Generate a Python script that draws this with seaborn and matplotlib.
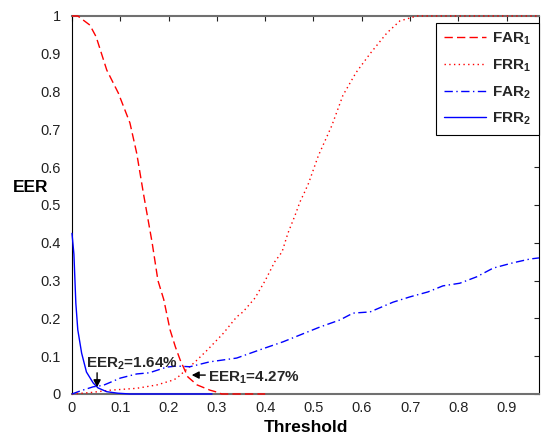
import matplotlib
matplotlib.use("Agg")
import matplotlib.pyplot as plt
import seaborn as sns

# ------------------------------------------------------------------
# Data
# ------------------------------------------------------------------
far1_x = [0.0, 0.012, 0.037, 0.05, 0.072, 0.096, 0.12, 0.134, 0.148, 0.166,
          0.178, 0.19, 0.203, 0.214, 0.224, 0.24, 0.259, 0.286, 0.30, 0.31, 0.40]
far1_y = [1.0, 1.0, 0.976, 0.945, 0.857, 0.796, 0.717, 0.637, 0.53, 0.40,
          0.30, 0.25, 0.17, 0.125, 0.09, 0.045, 0.024, 0.01, 0.005, 0.0, 0.0]

frr1_x = [0.0, 0.04, 0.079, 0.134, 0.176, 0.21, 0.217, 0.255, 0.28, 0.313,
          0.341, 0.354, 0.379, 0.40, 0.42, 0.435, 0.447, 0.462, 0.472, 0.482,
          0.49, 0.51, 0.538, 0.561, 0.588, 0.617, 0.652, 0.679, 0.714, 0.967]
frr1_y = [0.0, 0.004, 0.01, 0.015, 0.024, 0.037, 0.042, 0.085, 0.116, 0.16,
          0.204, 0.217, 0.254, 0.30, 0.35, 0.376, 0.425, 0.473, 0.508, 0.535,
          0.558, 0.63, 0.71, 0.79, 0.85, 0.90, 0.955, 0.987, 1.0, 1.0]

far2_x = [0.0, 0.017, 0.044, 0.065, 0.10, 0.134, 0.16, 0.196, 0.217, 0.244,
          0.285, 0.341, 0.396, 0.437, 0.472, 0.513, 0.555, 0.582, 0.617, 0.641,
          0.665, 0.70, 0.737, 0.768, 0.803, 0.838, 0.872, 0.913, 0.948, 0.967]
far2_y = [0.0, 0.008, 0.019, 0.023, 0.042, 0.053, 0.056, 0.071, 0.074, 0.072,
          0.085, 0.095, 0.12, 0.138, 0.156, 0.177, 0.196, 0.214, 0.217, 0.23,
          0.243, 0.257, 0.27, 0.286, 0.293, 0.31, 0.333, 0.347, 0.357, 0.36]

frr2_x = [0.0, 0.004, 0.008, 0.012, 0.02, 0.03, 0.044, 0.054, 0.072, 0.095,
          0.12, 0.29]
frr2_y = [0.425, 0.37, 0.24, 0.17, 0.108, 0.058, 0.029, 0.016, 0.006, 0.002,
          0.0, 0.0]

x_ticks = [0, 0.1, 0.2, 0.3, 0.4, 0.5, 0.6, 0.7, 0.8, 0.9]
y_ticks = [0, 0.1, 0.2, 0.3, 0.4, 0.5, 0.6, 0.7, 0.8, 0.9, 1]
y_tick_labels = ["0", "0.1", "0.2", "0.3", "0.4", "0.5", "0.6", "0.7", "0.8", "0.9", "1"]
x_tick_labels = ["0", "0.1", "0.2", "0.3", "0.4", "0.5", "0.6", "0.7", "0.8", "0.9"]

# ------------------------------------------------------------------
# Style
# ------------------------------------------------------------------
sns.set_theme(style="white")
plt.rcParams['font.family'] = ['Liberation Sans', 'DejaVu Sans']
plt.rcParams['mathtext.fontset'] = 'custom'
plt.rcParams['mathtext.rm'] = 'Liberation Sans'
plt.rcParams['mathtext.bf'] = 'Liberation Sans:bold'

RED = '#ff0000'
BLUE = '#0000ff'

fig = plt.figure(figsize=(5.42, 4.38), dpi=100)
ax = fig.add_axes([0.1328, 0.1005, 0.8617, 0.863])

for side in ['left', 'right']:
    ax.spines[side].set_color('black')
    ax.spines[side].set_linewidth(0.8)
for side in ['top', 'bottom']:
    ax.spines[side].set_color('#707070')
    ax.spines[side].set_linewidth(1.5)

sns.lineplot(x=far1_x, y=far1_y, ax=ax, color=RED, linewidth=1.0,
             label=r'FAR$_\mathbf{1}$', sort=False)
sns.lineplot(x=frr1_x, y=frr1_y, ax=ax, color=RED, linewidth=1.0,
             label=r'FRR$_\mathbf{1}$', sort=False)
sns.lineplot(x=far2_x, y=far2_y, ax=ax, color=BLUE, linewidth=1.0,
             label=r'FAR$_\mathbf{2}$', sort=False)
sns.lineplot(x=frr2_x, y=frr2_y, ax=ax, color=BLUE, linewidth=1.0,
             label=r'FRR$_\mathbf{2}$', sort=False)

lines = ax.get_lines()
lines[0].set_dashes((6, 3))
lines[1].set_dashes((1, 2.4))
lines[2].set_dashes((6, 2.5, 1, 2.5))
for ln in lines:
    ln.set_clip_on(False)
    ln.set_zorder(5)

ax.set_xlim(0, 0.967)
ax.set_ylim(0, 1)
ax.set_xticks(x_ticks)
ax.set_xticklabels(x_tick_labels)
ax.set_yticks(y_ticks)
ax.set_yticklabels(y_tick_labels)
ax.tick_params(direction='in', length=3.6, width=0.8, top=True, right=True,
               labelsize=10.5, labelcolor='#222222', color='#222222')
ax.tick_params(axis='x', pad=5)
ax.tick_params(axis='y', pad=8)

ax.set_xlabel('Threshold', fontsize=12.5, fontweight='bold', color='black')
ax.set_ylabel('EER', fontsize=12.5, fontweight='bold', color='black',
              rotation=0, va='center', ha='center')
ax.yaxis.set_label_coords(-0.088, 0.545)

# annotations
arrow_style = dict(arrowstyle='-|>,head_length=0.35,head_width=0.18',
                   color='black', lw=1.0, shrinkA=0, shrinkB=0)
ax.text(0.029, 0.071, r'EER$_\mathbf{2}$=1.64%', fontsize=11, fontweight='bold',
        va='baseline', ha='left', zorder=6)
ax.annotate('', xy=(0.052, 0.018), xytext=(0.052, 0.056),
            arrowprops=arrow_style, zorder=6)
ax.annotate('', xy=(0.248, 0.05), xytext=(0.276, 0.05),
            arrowprops=arrow_style, zorder=6)
ax.text(0.281, 0.034, r'EER$_\mathbf{1}$=4.27%', fontsize=11, fontweight='bold',
        va='baseline', ha='left', zorder=6)

leg = ax.legend(loc='upper right', bbox_to_anchor=(1.0, 1 - 7 / 378),
                borderaxespad=0, fancybox=False, framealpha=1,
                edgecolor='black', prop={'size': 11, 'weight': 'bold'},
                handlelength=2.75, handletextpad=0.4, labelspacing=0.65,
                borderpad=0.5)
leg.get_frame().set_linewidth(0.8)
leg.set_zorder(10)

fig.savefig('out.png', dpi=100)
